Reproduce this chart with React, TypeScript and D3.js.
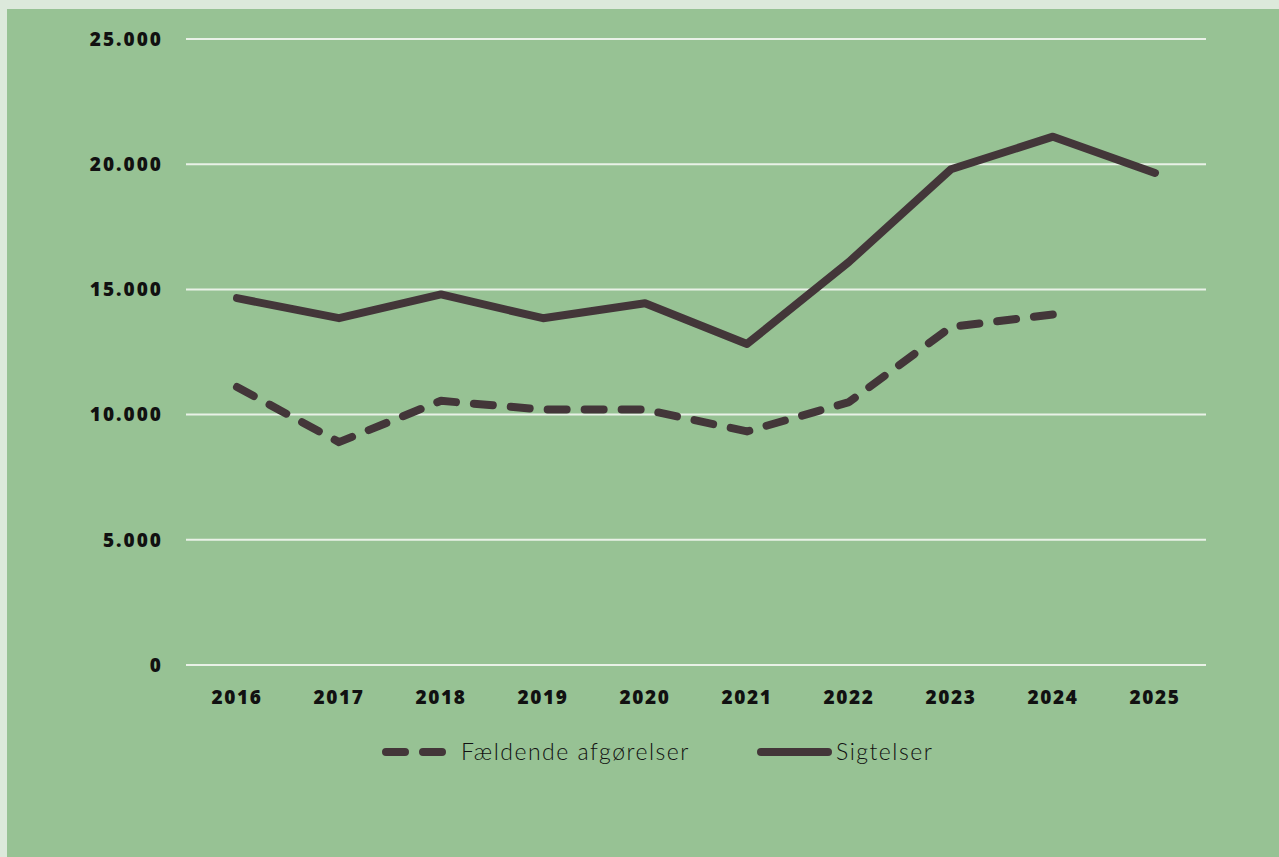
import React from "react";
import * as d3 from "d3";

const years = ["2016", "2017", "2018", "2019", "2020", "2021", "2022", "2023", "2024", "2025"];
const sigtelser = [14650, 13850, 14800, 13850, 14450, 12820, 16100, 19800, 21100, 19650];
const faeldende = [11100, 8900, 10550, 10200, 10200, 9330, 10500, 13500, 14000];
const yTicks = [0, 5000, 10000, 15000, 20000, 25000];
const legendLabels = ["Fældende afgørelser", "Sigtelser"];

const W = 1279;
const H = 857;
const LINE = "#433639";
const GREEN = "#97c294";
const PALE = "#dce9db";
const GRID = "#e9f1e7";

const locale = d3.formatLocale({ decimal: ",", thousands: ".", grouping: [3], currency: ["", " kr."] });
const fmt = locale.format(",");

export default function App() {
  const x = d3.scaleBand<string>().domain(years).range([186, 1206]).paddingInner(0).paddingOuter(0);
  const y = d3.scaleLinear().domain([0, 25000]).range([665, 39]);
  const cx = (d: string) => (x(d) ?? 0) + x.bandwidth() / 2;

  const line = d3
    .line<number>()
    .x((_, i) => cx(years[i]))
    .y((v) => y(v))
    .curve(d3.curveLinear);

  const labelFont = "'Open Sans', sans-serif";

  return (
    <svg
      width={W}
      height={H}
      style={{ position: "absolute", left: 0, top: 0, display: "block" }}
    >
      <rect x={0} y={0} width={W} height={H} fill={PALE} />
      <rect x={7} y={9} width={W - 7} height={H - 9} fill={GREEN} />

      {yTicks.map((t) => (
        <g key={t}>
          <line x1={186} x2={1206} y1={y(t)} y2={y(t)} stroke={GRID} strokeWidth={2} />
          <text
            x={163}
            y={y(t)}
            dy="0.36em"
            textAnchor="end"
            fontFamily={labelFont}
            fontWeight={800}
            fontSize={19}
            letterSpacing={2}
            fill="#111"
          >
            {fmt(t)}
          </text>
        </g>
      ))}

      {years.map((yr) => (
        <text
          key={yr}
          x={cx(yr)}
          y={704}
          textAnchor="middle"
          fontFamily={labelFont}
          fontWeight={800}
          fontSize={19}
          letterSpacing={1.6}
          fill="#111"
        >
          {yr}
        </text>
      ))}

      <path
        d={line(faeldende) ?? ""}
        fill="none"
        stroke={LINE}
        strokeWidth={8}
        strokeDasharray="19 18"
        strokeLinecap="round"
        strokeLinejoin="round"
      />
      <path
        d={line(sigtelser) ?? ""}
        fill="none"
        stroke={LINE}
        strokeWidth={8}
        strokeLinecap="round"
        strokeLinejoin="round"
      />

      <g>
        <line x1={386} x2={442} y1={752} y2={752} stroke={LINE} strokeWidth={8} strokeDasharray="19 18" strokeLinecap="round" />
        <text x={461} y={752} dy="0.36em" fontFamily="Lato, sans-serif" fontWeight={300} fontSize={23} letterSpacing={1.5} fill="#111">
          {legendLabels[0]}
        </text>
        <line x1={761} x2={828} y1={752} y2={752} stroke={LINE} strokeWidth={8} strokeLinecap="round" />
        <text x={836} y={752} dy="0.36em" fontFamily="Lato, sans-serif" fontWeight={300} fontSize={23} letterSpacing={1.5} fill="#111">
          {legendLabels[1]}
        </text>
      </g>
    </svg>
  );
}
